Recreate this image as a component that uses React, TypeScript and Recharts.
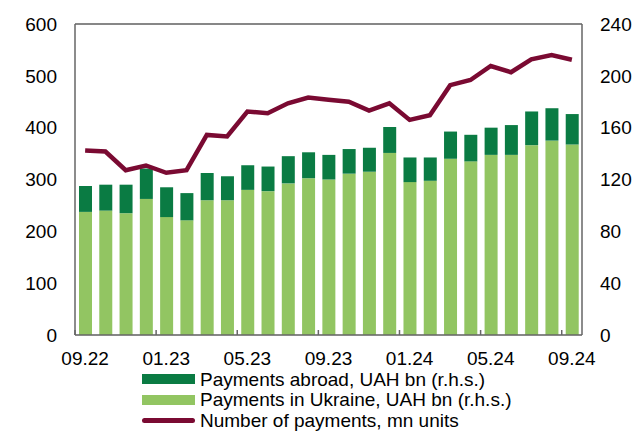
import React from "react"
import {
    ComposedChart,
    Bar,
    Line,
    XAxis,
    YAxis,
    CartesianGrid,
    ReferenceLine,
} from "recharts"

const months = [
    "09.22", "10.22", "11.22", "12.22", "01.23", "02.23", "03.23", "04.23", "05.23",
    "06.23", "07.23", "08.23", "09.23", "10.23", "11.23", "12.23", "01.24", "02.24",
    "03.24", "04.24", "05.24", "06.24", "07.24", "08.24", "09.24",
]

// UAH bn (r.h.s.)
const paymentsUkraine = [
    95, 96, 94, 105, 91, 88.5, 104, 104, 112, 111, 117, 121, 120,
    124.5, 126, 140.5, 118, 119, 136, 134, 139, 139, 146.5, 150, 147,
]
const paymentsAbroad = [
    20, 20, 22, 23.5, 23, 21, 21, 18.5, 19, 19, 21, 20, 19,
    19, 18.5, 20, 19, 18, 21, 20.5, 21, 23, 26, 25, 23.5,
]
// mn units (l.h.s.)
const paymentsCount = [
    356, 354, 318, 327, 313, 318, 386, 383, 431, 428, 447, 458, 454,
    450, 433, 447, 415, 424, 482, 492, 519, 507, 532, 540, 531,
]

const leftTicks = [0, 100, 200, 300, 400, 500, 600]
const rightTicks = [0, 40, 80, 120, 160, 200, 240]

const colors = {
    abroad: "#0A7B43",
    ukraine: "#92C562",
    count: "#7A0A32",
    axis: "#666666",
    grid: "#D9D9D9",
}

const font = '"Liberation Sans", Arial, sans-serif'
const FS = 19

const data = months.map((m, i) => ({
    month: m,
    ukraine: paymentsUkraine[i],
    abroad: paymentsAbroad[i],
    count: paymentsCount[i],
}))

const legendItems = [
    { label: "Payments abroad, UAH bn (r.h.s.)", color: colors.abroad, kind: "bar" },
    { label: "Payments in Ukraine, UAH bn (r.h.s.)", color: colors.ukraine, kind: "bar" },
    { label: "Number of payments, mn units", color: colors.count, kind: "line" },
]

const BAND = 507 / 25
const X_MARGIN = 17

function MonthTick(props: any) {
    const { x, y, payload } = props
    return (
        <g>
            <line
                x1={x - BAND / 2}
                x2={x - BAND / 2}
                y1={y - X_MARGIN}
                y2={y - X_MARGIN - 5}
                stroke={colors.axis}
                strokeWidth={1.5}
            />
            <text x={x} y={y} dy="0.71em" textAnchor="middle" fontSize={FS} fill="#000" fontFamily={font}>
                {payload.value}
            </text>
        </g>
    )
}

export default function App() {
    return (
        <div style={{ position: "absolute", left: 0, top: 0, width: 633, height: 432, background: "#fff" }}>
            <ComposedChart
                width={633}
                height={432}
                data={data}
                margin={{ top: 24, right: 0, bottom: 67, left: 0 }}
                style={{ fontFamily: font }}
            >
                <CartesianGrid vertical={false} stroke={colors.grid} strokeWidth={1} />
                <XAxis
                    dataKey="month"
                    interval={3}
                    height={30}
                    tickLine={false}
                    tickSize={0}
                    tickMargin={X_MARGIN}
                    axisLine={{ stroke: colors.axis, strokeWidth: 1.5 }}
                    tick={<MonthTick />}
                />
                <YAxis
                    yAxisId="left"
                    orientation="left"
                    width={75}
                    domain={[0, 600]}
                    ticks={leftTicks}
                    tickLine={false}
                    tickSize={0}
                    tickMargin={18}
                    axisLine={{ stroke: colors.axis, strokeWidth: 1.5 }}
                    tick={{ fill: "#000", fontSize: FS, fontFamily: font }}
                />
                <YAxis
                    yAxisId="right"
                    orientation="right"
                    width={51}
                    domain={[0, 240]}
                    ticks={rightTicks}
                    tickLine={false}
                    tickSize={0}
                    tickMargin={18}
                    axisLine={{ stroke: colors.axis, strokeWidth: 1.5 }}
                    tick={{ fill: "#000", fontSize: FS, fontFamily: font, textAnchor: "start" }}
                />
                <ReferenceLine yAxisId="left" y={600} stroke={colors.axis} strokeWidth={1.5} />
                <Bar
                    yAxisId="right"
                    dataKey="ukraine"
                    stackId="a"
                    fill={colors.ukraine}
                    barSize={13}
                    isAnimationActive={false}
                />
                <Bar
                    yAxisId="right"
                    dataKey="abroad"
                    stackId="a"
                    fill={colors.abroad}
                    barSize={13}
                    isAnimationActive={false}
                />
                <Line
                    yAxisId="left"
                    type="linear"
                    dataKey="count"
                    stroke={colors.count}
                    strokeWidth={4.5}
                    dot={false}
                    isAnimationActive={false}
                />
            </ComposedChart>

            {/* Legend */}
            <div style={{ position: "absolute", left: 142, top: 369, fontFamily: font, fontSize: 19, color: "#000" }}>
                {legendItems.map((item) => (
                    <div key={item.label} style={{ display: "flex", alignItems: "center", height: 20.5, whiteSpace: "nowrap" }}>
                        <div style={{ width: 53, display: "flex", alignItems: "center", justifyContent: "center" }}>
                            {item.kind === "bar" ? (
                                <div style={{ width: 53, height: 10, background: item.color }} />
                            ) : (
                                <div style={{ width: 53, height: 5, borderRadius: 3, background: item.color }} />
                            )}
                        </div>
                        <span style={{ marginLeft: 5, lineHeight: "19px" }}>{item.label}</span>
                    </div>
                ))}
            </div>
        </div>
    )
}
